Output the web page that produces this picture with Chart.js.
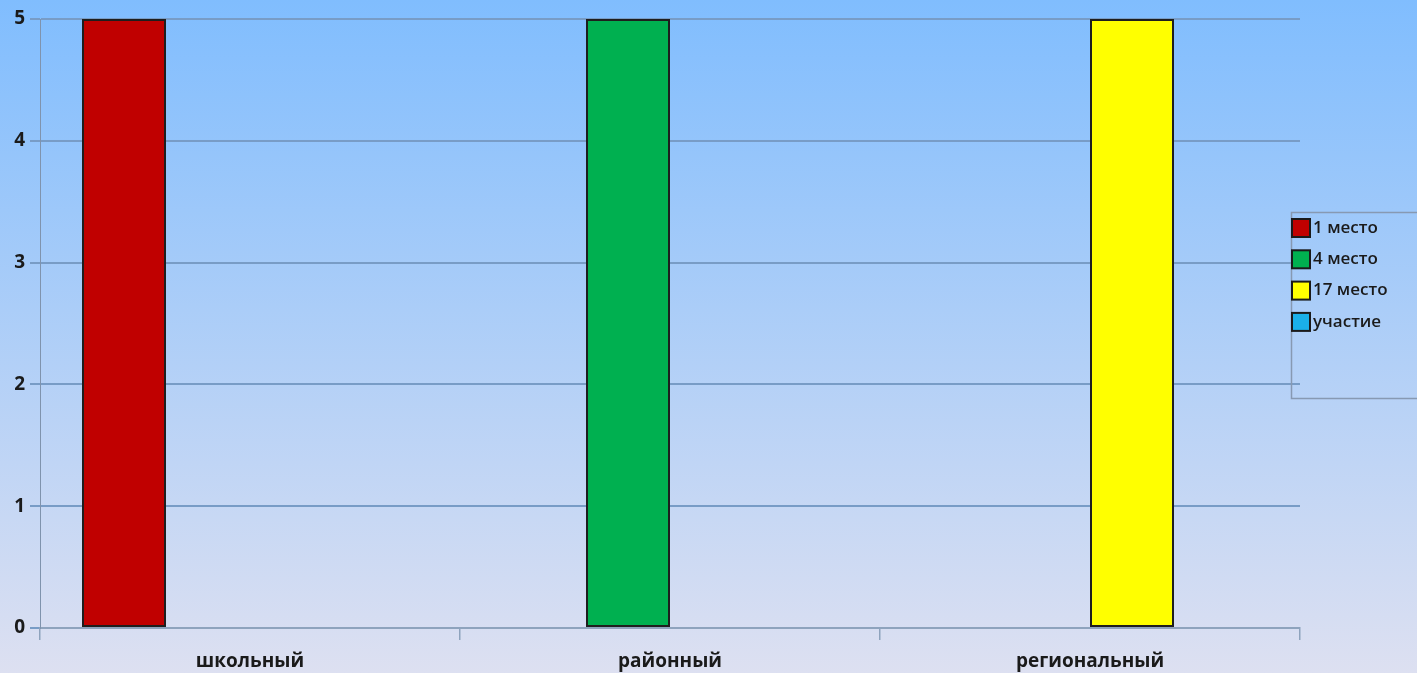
<!DOCTYPE html>
<html>
<head>
    <meta charset="utf-8">
    <title>Места</title>
    <script src="https://cdn.jsdelivr.net/npm/chart.js"></script>
    <style>
        html, body { margin: 0; padding: 0; overflow: hidden; }
        #wrap { width: 1417px; height: 673px; position: relative; }
    </style>
</head>
<body>
<div id="wrap"><canvas id="placeChart"></canvas></div>
<script>
// categories and series values
const levels = ['школьный', 'районный', 'региональный'];
const seriesNames = ['1 место', '4 место', '17 место', 'участие'];
const place1 = [5, null, null];
const place4 = [null, 5, null];
const place17 = [null, null, 5];
const participation = [null, null, null];
const yTicks = [0, 1, 2, 3, 4, 5];

const seriesColors = ['#c00000', '#00b050', '#ffff00', '#1ab0e8'];

// gradient background behind everything
const bgPlugin = {
    id: 'bg',
    beforeDraw(chart) {
        const c = chart.ctx;
        const g = c.createLinearGradient(0, 0, 0, chart.height);
        g.addColorStop(0, '#80bdfe');
        g.addColorStop(1, '#dde0f1');
        c.save();
        c.fillStyle = g;
        c.fillRect(0, 0, chart.width, chart.height);
        c.restore();
    }
};

// legend box on the right, like the office chart
const legendPlugin = {
    id: 'sideLegend',
    afterDraw(chart) {
        const c = chart.ctx;
        c.save();
        c.strokeStyle = '#8799b2';
        c.lineWidth = 1.5;
        c.strokeRect(1291.5, 212.5, 140, 186);
        c.font = '600 17px "Open Sans", sans-serif';
        c.textBaseline = 'middle';
        chart.data.datasets.forEach(function(ds, i) {
            const y = 228 + i * 31.3;
            c.fillStyle = ds.backgroundColor;
            c.fillRect(1292, y - 9, 18, 18);
            c.strokeStyle = '#1a1a1a';
            c.lineWidth = 2;
            c.strokeRect(1292, y - 9, 18, 18);
            c.fillStyle = '#1a1a1a';
            c.fillText(ds.label, 1313, y);
        });
        c.restore();
    }
};

const allValues = [place1, place4, place17, participation];

const ctx = document.getElementById('placeChart').getContext('2d');
new Chart(ctx, {
    type: 'bar',
    data: {
        labels: levels,
        datasets: seriesNames.map(function(name, i) {
            return {
                label: name,
                data: allValues[i],
                backgroundColor: seriesColors[i],
                borderColor: '#1e1e1e',
                borderWidth: 2,
                borderSkipped: false,
                categoryPercentage: 0.8,
                barPercentage: 1.0
            };
        })
    },
    options: {
        responsive: true,
        maintainAspectRatio: false,
        animation: false,
        layout: { padding: { top: 19, right: 117, left: 0, bottom: 0 } },
        plugins: {
            legend: { display: false },
            tooltip: { enabled: false }
        },
        scales: {
            x: {
                offset: true,
                grid: {
                    offset: true,
                    drawOnChartArea: false,
                    drawTicks: true,
                    tickLength: 12,
                    color: '#8ea3bd',
                    lineWidth: 1.5
                },
                border: { color: '#8ea3bd', width: 2 },
                ticks: {
                    color: '#1a1a1a',
                    padding: 10,
                    font: { family: '"Open Sans", sans-serif', size: 19, weight: 'bold' }
                },
                afterFit(axis) { axis.height = 45; }
            },
            y: {
                min: 0,
                max: 5,
                afterBuildTicks(axis) {
                    axis.ticks = yTicks.map(function(v) { return { value: v }; });
                },
                grid: {
                    color: '#789cc6',
                    lineWidth: 2,
                    tickLength: 10
                },
                border: { color: '#7f93ad', width: 1 },
                ticks: {
                    color: '#1a1a1a',
                    padding: 5,
                    font: { family: '"Open Sans", sans-serif', size: 19, weight: 'bold' }
                },
                afterFit(axis) { axis.width = 40; }
            }
        }
    },
    plugins: [bgPlugin, legendPlugin]
});
</script>
</body>
</html>
